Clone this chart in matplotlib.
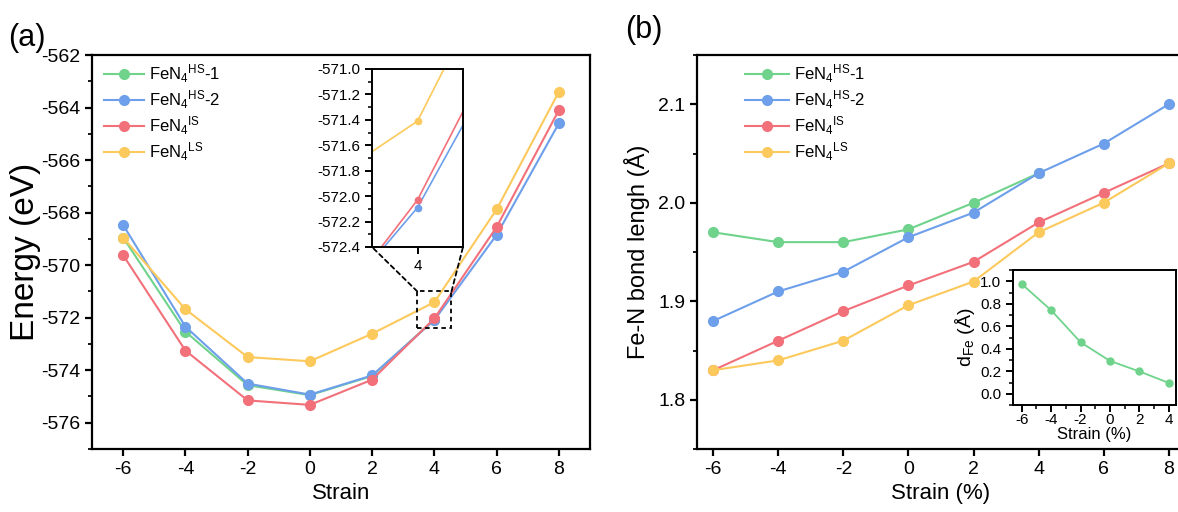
import numpy as np
import matplotlib.pyplot as plt
from matplotlib.patches import Rectangle, ConnectionPatch
from matplotlib.ticker import MultipleLocator

plt.rcParams['font.family'] = ['Liberation Sans', 'DejaVu Sans']
plt.rcParams['mathtext.fontset'] = 'custom'
plt.rcParams['mathtext.rm'] = 'Liberation Sans'
plt.rcParams['mathtext.it'] = 'Liberation Sans:italic'
plt.rcParams['axes.unicode_minus'] = False

# strain values
strain = [-6, -4, -2, 0, 2, 4, 6, 8]
strain_hs1 = [-6, -4, -2, 0, 2, 4]

# (a) total energy (eV)
energy_hs1 = [-568.95, -572.53, -574.57, -574.95, -574.22, -572.07]
energy_hs2 = [-568.47, -572.34, -574.51, -574.93, -574.20, -572.09, -568.85, -564.60]
energy_is = [-569.62, -573.25, -575.15, -575.32, -574.36, -572.03, -568.55, -564.10]
energy_ls = [-568.95, -571.68, -573.50, -573.66, -572.61, -571.41, -567.88, -563.40]

# (b) Fe-N bond length (A)
bond_hs1 = [1.970, 1.960, 1.960, 1.973, 2.000, 2.030]
bond_hs2 = [1.880, 1.910, 1.930, 1.965, 1.990, 2.030, 2.060, 2.100]
bond_is = [1.830, 1.860, 1.890, 1.916, 1.940, 1.980, 2.010, 2.040]
bond_ls = [1.830, 1.840, 1.860, 1.896, 1.920, 1.970, 2.000, 2.040]

# (b) inset: Fe displacement
d_fe = [0.975, 0.742, 0.458, 0.292, 0.199, 0.097]

labels = [r'FeN$_4$$^{\rm HS}$-1', r'FeN$_4$$^{\rm HS}$-2',
          r'FeN$_4$$^{\rm IS}$', r'FeN$_4$$^{\rm LS}$']
colors = ['#6fd38c', '#6d9fea', '#f2707a', '#fcc95c']

W, H = 1178, 512
fig = plt.figure(figsize=(W / 100, H / 100), dpi=100)


def style(ax, size, width=1.6):
    for s in ax.spines.values():
        s.set_linewidth(width)
    ax.tick_params(which='major', direction='out', length=5, width=width,
                   labelsize=size)
    ax.tick_params(which='minor', direction='out', length=3, width=width * 0.8)


# ---- panel (a)
ax1 = fig.add_axes([92 / W, 1 - 449 / H, (590 - 92) / W, (449 - 55) / H])
series_a = [(strain_hs1, energy_hs1), (strain, energy_hs2),
            (strain, energy_is), (strain, energy_ls)]
for (x, y), c, lab in zip(series_a, colors, labels):
    ax1.plot(x, y, '-o', color=c, lw=1.5, ms=7, label=lab)
ax1.set_xlim(-7, 9)
ax1.set_ylim(-577, -562)
ax1.set_xticks(range(-6, 9, 2))
ax1.set_yticks(range(-576, -561, 2))
ax1.yaxis.set_minor_locator(MultipleLocator(1))
ax1.set_xlabel('Strain', fontsize=16, labelpad=4)
ax1.set_ylabel('Energy (eV)', fontsize=24, labelpad=0)
style(ax1, 14)
ax1.legend(loc='upper left', bbox_to_anchor=(0.0, 1.01), frameon=False,
           fontsize=12, handlelength=2.4, handletextpad=0.3,
           labelspacing=0.2, borderaxespad=0.3)
fig.text(8 / W, 1 - 38 / H, '(a)', fontsize=22, va='center')

# zoom rectangle and inset
rect_x = (3.45, 4.55)
rect_y = (-572.4, -571.0)
ax1.add_patch(Rectangle((rect_x[0], rect_y[0]), rect_x[1] - rect_x[0],
                        rect_y[1] - rect_y[0], fill=False, ls=(0, (2.5, 2)),
                        lw=1.3, ec='k', zorder=5))

axin = fig.add_axes([372 / W, 1 - 247 / H, 91 / W, 178 / H])
for (x, y), c in zip(series_a[1:], colors[1:]):
    axin.plot(x, y, '-o', color=c, lw=1.2, ms=4.5)
axin.set_xlim(3.6, 4.4)
axin.set_ylim(-572.4, -571.0)
axin.set_xticks([4])
axin.set_yticks(np.arange(-572.4, -570.95, 0.2))
axin.yaxis.set_minor_locator(MultipleLocator(0.1))
axin.yaxis.set_major_formatter(plt.FormatStrFormatter('%.1f'))
style(axin, 11, 1.4)

for xr, xa in [(rect_x[0], 0), (rect_x[1], 1)]:
    con = ConnectionPatch(xyA=(xr, rect_y[1]), coordsA=ax1.transData,
                          xyB=(xa, 0), coordsB=axin.transAxes,
                          ls=(0, (2.5, 2)), lw=1.3, color='k')
    fig.add_artist(con)

# ---- panel (b)
ax2 = fig.add_axes([697 / W, 1 - 449 / H, (1185 - 697) / W, (449 - 55) / H])
series_b = [(strain_hs1, bond_hs1), (strain, bond_hs2),
            (strain, bond_is), (strain, bond_ls)]
for (x, y), c, lab in zip(series_b, colors, labels):
    ax2.plot(x, y, '-o', color=c, lw=1.5, ms=7, label=lab)
ax2.set_xlim(-6.5, 8.5)
ax2.set_ylim(1.75, 2.15)
ax2.set_xticks(range(-6, 9, 2))
ax2.set_yticks([1.8, 1.9, 2.0, 2.1])
ax2.yaxis.set_minor_locator(MultipleLocator(0.05))
ax2.set_xlabel('Strain (%)', fontsize=16, labelpad=4)
ax2.set_ylabel('Fe-N bond lengh (Å)', fontsize=17, labelpad=6)
style(ax2, 14)
ax2.legend(loc='upper left', bbox_to_anchor=(0.075, 1.01), frameon=False,
           fontsize=12, handlelength=2.6, handletextpad=0.3,
           labelspacing=0.2, borderaxespad=0.3)
fig.text(625 / W, 1 - 30 / H, '(b)', fontsize=22, va='center')

# inset (b)
axd = fig.add_axes([1013 / W, 1 - 405 / H, 163 / W, 135 / H])
axd.plot(strain_hs1, d_fe, '-o', color=colors[0], lw=1.3, ms=5)
axd.set_xlim(-6.6, 4.5)
axd.set_ylim(-0.1, 1.1)
axd.set_xticks(range(-6, 5, 2))
axd.xaxis.set_minor_locator(MultipleLocator(1))
axd.set_yticks(np.arange(0, 1.01, 0.2))
axd.yaxis.set_minor_locator(MultipleLocator(0.1))
axd.yaxis.set_major_formatter(plt.FormatStrFormatter('%.1f'))
axd.set_xlabel('Strain (%)', fontsize=12, labelpad=0)
axd.set_ylabel(r'd$_{\rm Fe}$ (Å)', fontsize=14, labelpad=2)
style(axd, 11, 1.4)
axd.tick_params(axis='x', pad=1)

fig.savefig('out.png', dpi=100)
